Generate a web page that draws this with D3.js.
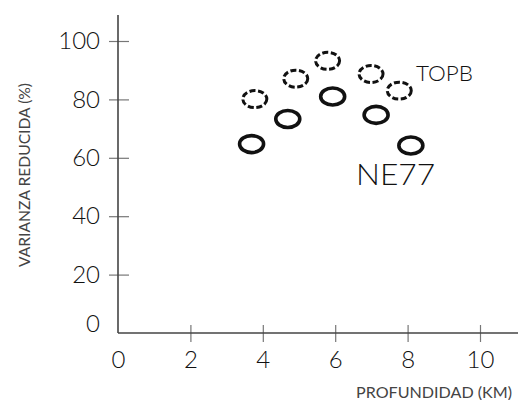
<!DOCTYPE html>
<html>
<head>
<meta charset="utf-8">
<script src="https://cdn.jsdelivr.net/npm/d3@7"></script>
<style>
  body { margin: 0; background: #fff; }
  svg { display: block; }
  text { font-family: Lato, "DejaVu Sans", sans-serif; }
</style>
</head>
<body>
<div id="chart"></div>
<script>
// data
const depthNE77 = [3.69, 4.69, 5.93, 7.13, 8.09];
const varNE77 = [64.7, 73.3, 81.0, 74.7, 64.2];
const depthTOPB = [3.78, 4.91, 5.79, 6.99, 7.77];
const varTOPB = [80.1, 87.1, 93.2, 88.7, 83.0];
const xTicks = [0, 2, 4, 6, 8, 10];
const yTicks = [0, 20, 40, 60, 80, 100];

const width = 518, height = 400;

const svg = d3.select('#chart').append('svg')
    .attr('width', width)
    .attr('height', height);

const xScale = d3.scaleLinear().domain([0, 10]).range([118, 480]);
const yScale = d3.scaleLinear().domain([0, 100]).range([333, 41]);

const axisColor = '#444';

// y axis
const yAxis = svg.append('g')
    .attr('transform', `translate(${xScale(0)},0)`)
    .call(d3.axisLeft(yScale).tickValues(yTicks).tickSize(0).tickPadding(18));
yAxis.select('.domain').remove();
yAxis.append('line')
    .attr('x1', 0).attr('x2', 0)
    .attr('y1', 15).attr('y2', yScale(0))
    .attr('stroke', axisColor).attr('stroke-width', 1.6);
yAxis.selectAll('.tick')
    .filter(d => d !== 0)
    .append('line')
    .attr('x1', -9).attr('x2', 11)
    .attr('stroke', '#777').attr('stroke-width', 1.2);
yAxis.selectAll('.tick text')
    .attr('fill', '#111')
    .style('font-size', '24px')
    .style('font-weight', 300)
    .attr('dy', d => d === 0 ? '-0.05em' : '0.32em');

// x axis
const xAxis = svg.append('g')
    .attr('transform', `translate(0,${yScale(0)})`)
    .call(d3.axisBottom(xScale).tickValues(xTicks).tickSize(0).tickPadding(18));
xAxis.select('.domain').remove();
xAxis.append('line')
    .attr('x1', xScale(0)).attr('x2', width)
    .attr('stroke', axisColor).attr('stroke-width', 1.6);
xAxis.selectAll('.tick')
    .filter(d => d !== 0)
    .append('line')
    .attr('y1', -8).attr('y2', 9)
    .attr('stroke', '#777').attr('stroke-width', 1.2);
xAxis.selectAll('.tick text')
    .attr('fill', '#111')
    .style('font-size', '24px')
    .style('font-weight', 300);

// axis titles
svg.append('text')
    .attr('transform', 'translate(30,175) rotate(-90)')
    .attr('text-anchor', 'middle')
    .attr('fill', '#444')
    .attr('textLength', 184)
    .attr('lengthAdjust', 'spacingAndGlyphs')
    .style('font-size', '16px')
    .text('VARIANZA REDUCIDA (%)');

svg.append('text')
    .attr('x', 356).attr('y', 398)
    .attr('fill', '#444')
    .attr('textLength', 156)
    .attr('lengthAdjust', 'spacingAndGlyphs')
    .style('font-size', '16px')
    .text('PROFUNDIDAD (KM)');

// markers
const ne77 = depthNE77.map((d, i) => ({x: d, y: varNE77[i]}));
const topb = depthTOPB.map((d, i) => ({x: d, y: varTOPB[i]}));

svg.append('g').selectAll('ellipse')
    .data(topb)
    .join('ellipse')
    .attr('cx', d => xScale(d.x))
    .attr('cy', d => yScale(d.y))
    .attr('rx', 12)
    .attr('ry', 8.5)
    .attr('fill', 'none')
    .attr('stroke', '#111')
    .attr('stroke-width', 3)
    .attr('stroke-dasharray', '6 2.6');

svg.append('g').selectAll('ellipse')
    .data(ne77)
    .join('ellipse')
    .attr('cx', d => xScale(d.x))
    .attr('cy', d => yScale(d.y))
    .attr('rx', 12)
    .attr('ry', 8.5)
    .attr('fill', 'none')
    .attr('stroke', '#111')
    .attr('stroke-width', 3.6);

// series labels
svg.append('text')
    .attr('x', 416).attr('y', 81)
    .attr('fill', '#111')
    .attr('textLength', 57)
    .attr('lengthAdjust', 'spacingAndGlyphs')
    .style('font-size', '21px')
    .style('font-weight', 300)
    .text('TOPB');

svg.append('text')
    .attr('x', 356).attr('y', 185)
    .attr('fill', '#111')
    .attr('textLength', 79)
    .attr('lengthAdjust', 'spacingAndGlyphs')
    .style('font-size', '30px')
    .style('font-weight', 300)
    .text('NE77');
</script>
</body>
</html>
